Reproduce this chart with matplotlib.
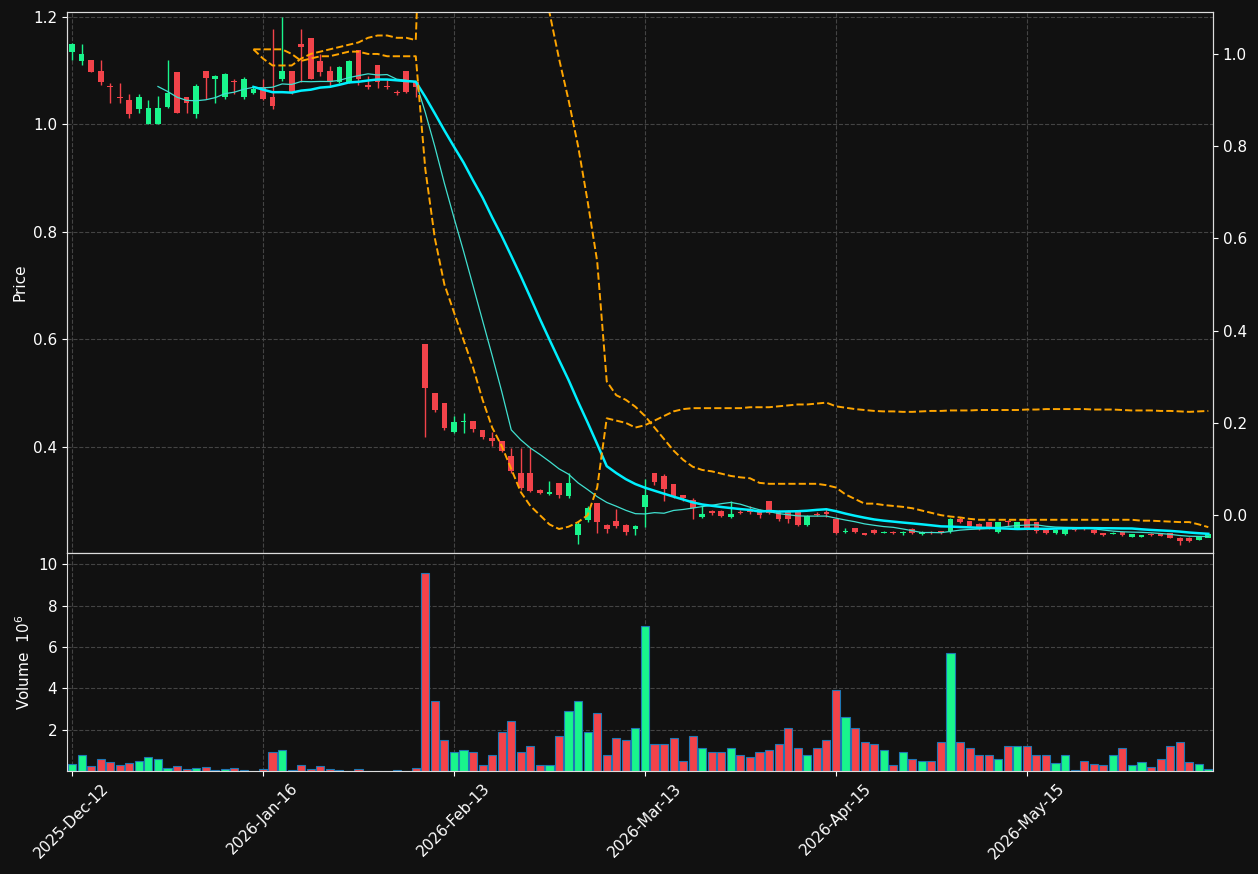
import matplotlib
matplotlib.use("Agg")
import matplotlib.pyplot as plt
import numpy as np
import pandas as pd

tick_idx = [0, 20, 40, 60, 80, 100]
tick_labels = ["2025-Dec-12", "2026-Jan-16", "2026-Feb-13", "2026-Mar-13", "2026-Apr-15", "2026-May-15"]

opens = [1.134,1.117,1.119,1.100,1.072,1.050,1.045,1.028,1.000,1.000,1.033,1.097,1.050,1.020,1.100,1.084,1.050,1.080,1.050,1.059,
         1.069,1.050,1.085,1.100,1.150,1.160,1.117,1.100,1.078,1.078,1.139,1.074,1.110,1.072,1.061,1.100,1.078,0.591,0.500,0.482,
         0.428,0.447,0.448,0.432,0.417,0.411,0.383,0.352,0.352,0.320,0.313,0.333,0.309,0.237,0.264,0.296,0.255,0.262,0.255,0.248,
         0.289,0.352,0.346,0.331,0.311,0.302,0.270,0.281,0.281,0.270,0.280,0.281,0.283,0.300,0.281,0.281,0.279,0.255,0.275,0.280,
         0.266,0.242,0.249,0.240,0.246,0.241,0.242,0.240,0.248,0.238,0.242,0.243,0.244,0.266,0.262,0.257,0.260,0.242,0.262,0.249,
         0.266,0.260,0.248,0.240,0.238,0.248,0.248,0.246,0.240,0.239,0.242,0.233,0.233,0.238,0.240,0.240,0.231,0.231,0.228,0.231]
closes = [1.150,1.130,1.098,1.078,1.069,1.049,1.020,1.050,1.030,1.030,1.059,1.022,1.039,1.071,1.087,1.089,1.093,1.079,1.085,1.065,
          1.048,1.035,1.100,1.061,1.143,1.084,1.098,1.078,1.106,1.117,1.084,1.069,1.078,1.069,1.058,1.061,1.069,0.510,0.469,0.435,
          0.446,0.448,0.433,0.419,0.411,0.393,0.355,0.324,0.318,0.315,0.316,0.311,0.333,0.257,0.287,0.261,0.248,0.253,0.242,0.253,
          0.311,0.335,0.322,0.309,0.305,0.287,0.276,0.277,0.272,0.276,0.278,0.279,0.274,0.277,0.266,0.266,0.255,0.272,0.273,0.276,
          0.240,0.244,0.242,0.237,0.240,0.242,0.241,0.242,0.240,0.242,0.241,0.240,0.266,0.261,0.253,0.249,0.251,0.260,0.260,0.260,
          0.249,0.244,0.240,0.246,0.248,0.246,0.247,0.240,0.237,0.240,0.236,0.238,0.236,0.237,0.235,0.231,0.225,0.226,0.234,0.238]
highs = [1.152,1.150,1.119,1.119,1.076,1.076,1.056,1.056,1.045,1.052,1.119,1.097,1.050,1.075,1.100,1.092,1.095,1.084,1.088,1.072,
         1.085,1.178,1.200,1.100,1.178,1.160,1.130,1.108,1.108,1.120,1.139,1.090,1.110,1.082,1.064,1.100,1.080,0.591,0.500,0.482,
         0.458,0.463,0.448,0.432,0.428,0.411,0.399,0.399,0.399,0.322,0.337,0.333,0.352,0.262,0.290,0.296,0.257,0.285,0.256,0.255,
         0.340,0.352,0.350,0.331,0.311,0.305,0.290,0.282,0.282,0.300,0.283,0.290,0.284,0.300,0.282,0.282,0.280,0.274,0.280,0.285,
         0.266,0.250,0.250,0.241,0.247,0.244,0.243,0.244,0.249,0.243,0.243,0.243,0.268,0.270,0.263,0.258,0.261,0.261,0.264,0.261,
         0.266,0.260,0.249,0.247,0.249,0.249,0.249,0.247,0.241,0.242,0.243,0.239,0.237,0.240,0.241,0.241,0.232,0.232,0.235,0.239]
lows = [1.119,1.110,1.098,1.074,1.039,1.039,1.011,1.022,1.000,1.000,1.031,1.022,1.022,1.011,1.048,1.039,1.048,1.056,1.048,1.056,
        1.045,1.028,1.080,1.056,1.078,1.084,1.090,1.070,1.076,1.076,1.074,1.065,1.068,1.066,1.055,1.058,1.050,0.419,0.465,0.432,
        0.426,0.426,0.428,0.415,0.402,0.390,0.352,0.320,0.316,0.313,0.311,0.306,0.305,0.220,0.260,0.240,0.240,0.250,0.236,0.236,
        0.251,0.330,0.300,0.305,0.300,0.267,0.268,0.274,0.270,0.268,0.276,0.275,0.268,0.275,0.262,0.258,0.254,0.253,0.271,0.270,
        0.238,0.240,0.240,0.236,0.239,0.240,0.239,0.236,0.238,0.236,0.238,0.238,0.241,0.259,0.251,0.246,0.248,0.240,0.253,0.247,
        0.246,0.241,0.238,0.238,0.236,0.243,0.245,0.238,0.235,0.238,0.234,0.232,0.232,0.234,0.234,0.230,0.217,0.223,0.227,0.236]
volumes = [0.35,0.8,0.25,0.6,0.45,0.3,0.4,0.5,0.7,0.6,0.15,0.25,0.1,0.15,0.2,0.05,0.1,0.15,0.05,0.02,
           0.1,0.9,1.0,0.05,0.3,0.1,0.25,0.1,0.05,0.02,0.1,0.02,0.02,0.02,0.05,0.02,0.15,9.6,3.4,1.5,
           0.9,1.0,0.9,0.3,0.8,1.9,2.4,0.9,1.2,0.3,0.3,1.7,2.9,3.4,1.9,2.8,0.8,1.6,1.5,2.1,
           7.0,1.3,1.3,1.6,0.5,1.7,1.1,0.9,0.9,1.1,0.8,0.7,0.9,1.0,1.3,2.1,1.1,0.8,1.1,1.5,
           3.9,2.6,2.1,1.4,1.3,1.0,0.3,0.9,0.6,0.5,0.5,1.4,5.7,1.4,1.1,0.8,0.8,0.6,1.2,1.2,
           1.2,0.8,0.8,0.4,0.8,0.05,0.5,0.35,0.3,0.8,1.1,0.3,0.45,0.2,0.6,1.2,1.4,0.45,0.35,0.1]
band_a = [np.nan]*19 + [1.01,0.99,0.975,0.975,0.975,0.99,1.0,1.005,1.01,1.015,1.02,1.025,1.035,1.04,1.04,1.035,1.035,1.03,
          1.6,1.6,1.6,1.6,1.6,1.6,1.6,1.6,1.6,1.6,1.6,1.6,1.3,1.09,0.99,0.9,0.8,0.68,0.55,0.29,
          0.26,0.25,0.235,0.215,0.19,0.165,0.14,0.12,0.105,0.098,0.095,0.09,0.085,0.082,0.08,0.07,0.068,0.068,0.068,0.068,
          0.068,0.068,0.065,0.06,0.045,0.035,0.025,0.025,0.022,0.02,0.018,0.015,0.01,0.005,0.0,-0.003,-0.005,-0.008,
          -0.01,-0.01,-0.01,-0.01,-0.01,-0.01,-0.01,-0.01,-0.01,-0.01,-0.01,-0.01,-0.01,-0.01,-0.01,-0.01,-0.01,-0.012,
          -0.012,-0.013,-0.014,-0.015,-0.015,-0.02,-0.026]
band_b = [np.nan]*19 + [1.01,1.01,1.01,1.01,1.0,0.985,0.99,0.995,0.995,1.0,1.005,1.005,1.0,1.0,0.995,0.995,0.995,0.995,
          0.75,0.6,0.5,0.44,0.38,0.32,0.25,0.19,0.15,0.10,0.05,0.02,0.0,-0.02,-0.03,-0.025,-0.015,0.0,0.06,0.21,
          0.205,0.20,0.19,0.195,0.205,0.215,0.225,0.23,0.232,0.232,0.232,0.232,0.232,0.232,0.234,0.234,0.234,0.236,0.238,0.24,
          0.24,0.242,0.244,0.236,0.233,0.23,0.228,0.226,0.225,0.225,0.224,0.224,0.225,0.226,0.226,0.227,0.227,0.227,
          0.228,0.228,0.228,0.228,0.228,0.229,0.229,0.23,0.23,0.23,0.23,0.23,0.229,0.229,0.229,0.228,0.227,0.227,
          0.227,0.226,0.226,0.225,0.224,0.225,0.226]

BG = "#111111"
UP = "#19f58c"
DN = "#f2434a"
x = np.arange(len(closes))
o = np.array(opens); c = np.array(closes); h = np.array(highs); l = np.array(lows)
up = c >= o
cols = np.where(up, UP, DN)

fig = plt.figure(figsize=(12.58, 8.74), dpi=100, facecolor=BG)
ax = fig.add_axes([0.0533, 0.3673, 0.911, 0.619], facecolor=BG)
axv = fig.add_axes([0.0533, 0.1178, 0.911, 0.2495], facecolor=BG, sharex=ax)
ax2 = ax.twinx()

for a in (ax, axv, ax2):
    for s in a.spines.values():
        s.set_color("#dddddd")
    a.tick_params(colors="white", labelsize=11)
for a in (ax, axv):
    a.grid(True, color="#444444", linestyle="--", linewidth=0.8)
    a.set_axisbelow(True)

ax.vlines(x, l, h, colors=cols, linewidth=1)
ax.bar(x, np.abs(c - o) + 1e-4, bottom=np.minimum(o, c), width=0.6, color=cols)
ma10 = pd.Series(c).rolling(10).mean()
ma20 = pd.Series(c).rolling(20).mean()
ax.plot(x, ma10, color="#40e0d0", linewidth=0.9)
ax.plot(x, ma20, color="#00f0ff", linewidth=1.8)
ax.set_ylim(0.203, 1.209)
ax.set_yticks([0.4, 0.6, 0.8, 1.0, 1.2])
ax.set_ylabel("Price", color="white", fontsize=11)
ax.tick_params(axis="x", labelbottom=False, length=0)

ax2.plot(x, band_a, color="#ffa500", linestyle="--", linewidth=1.4)
ax2.plot(x, band_b, color="#ffa500", linestyle="--", linewidth=1.4)
ax2.set_ylim(-0.082, 1.091)
ax2.set_yticks([0.0, 0.2, 0.4, 0.6, 0.8, 1.0])

axv.bar(x, volumes, width=0.85, color=cols, edgecolor="#1f77b4", linewidth=0.8)
axv.set_ylim(0, 10.55)
axv.set_yticks([2, 4, 6, 8, 10])
axv.set_ylabel("Volume  $10^6$", color="white", fontsize=11)
axv.set_xlim(-0.52, 119.5)
axv.set_xticks(tick_idx)
axv.set_xticklabels(tick_labels, rotation=45, ha="center")

fig.savefig("out.png", dpi=100, facecolor=BG)
